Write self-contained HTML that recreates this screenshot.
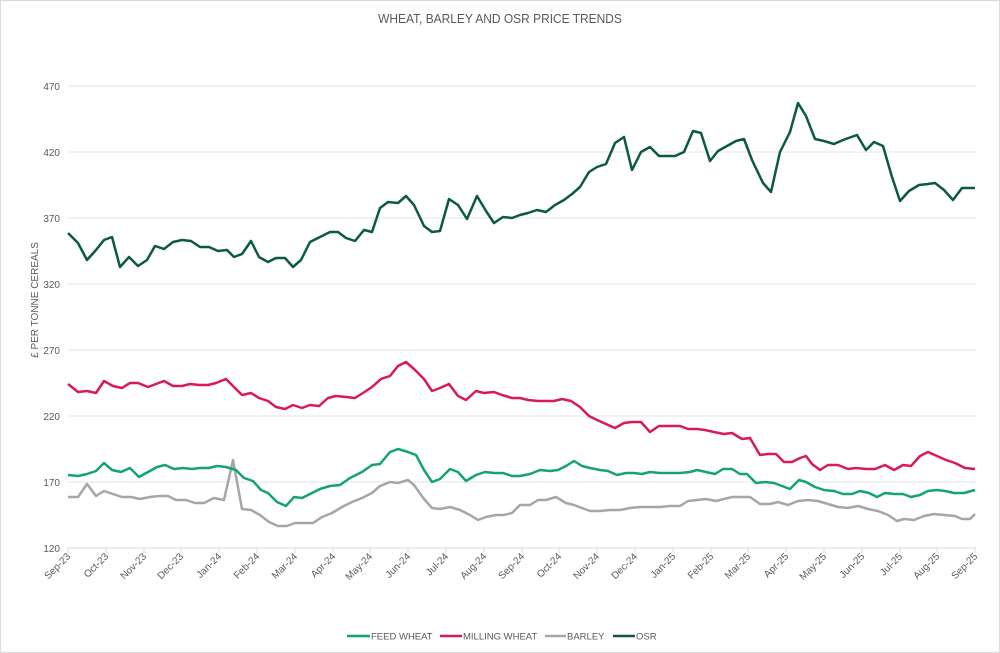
<!DOCTYPE html>
<html><head><meta charset="utf-8"><style>
html,body{margin:0;padding:0;background:#fff}
svg{display:block;font-family:"Liberation Sans",sans-serif}
</style></head><body>
<svg width="1000" height="653" viewBox="0 0 1000 653" xmlns="http://www.w3.org/2000/svg">
<rect x="0.5" y="0.5" width="999" height="652" fill="#fff" stroke="#d9d9d9"/>
<text x="500" y="23" text-anchor="middle" font-size="13" fill="#595959" transform="translate(500 0) scale(0.92 1) translate(-500 0)">WHEAT, BARLEY AND OSR PRICE TRENDS</text>
<g stroke="#e6e6e6" stroke-width="1">
<line x1="68" y1="86" x2="976" y2="86"/><line x1="68" y1="152" x2="976" y2="152"/>
<line x1="68" y1="218" x2="976" y2="218"/><line x1="68" y1="284" x2="976" y2="284"/>
<line x1="68" y1="350" x2="976" y2="350"/><line x1="68" y1="416" x2="976" y2="416"/>
<line x1="68" y1="482" x2="976" y2="482"/>
</g>
<line x1="68" y1="548" x2="976" y2="548" stroke="#d9d9d9"/>
<g font-size="10" fill="#595959" text-anchor="end">
<text x="60" y="90">470</text><text x="60" y="156">420</text><text x="60" y="222">370</text>
<text x="60" y="288">320</text><text x="60" y="354">270</text><text x="60" y="420">220</text>
<text x="60" y="486">170</text><text x="60" y="552">120</text>
</g>
<text transform="translate(38 300) rotate(-90)" text-anchor="middle" font-size="10" fill="#595959">£ PER TONNE CEREALS</text>
<g stroke="#d9d9d9">
<line x1="68" y1="548" x2="68" y2="553"/><line x1="106" y1="548" x2="106" y2="553"/><line x1="144" y1="548" x2="144" y2="553"/><line x1="181" y1="548" x2="181" y2="553"/><line x1="219" y1="548" x2="219" y2="553"/><line x1="257" y1="548" x2="257" y2="553"/><line x1="295" y1="548" x2="295" y2="553"/><line x1="333" y1="548" x2="333" y2="553"/><line x1="370" y1="548" x2="370" y2="553"/><line x1="408" y1="548" x2="408" y2="553"/><line x1="446" y1="548" x2="446" y2="553"/><line x1="484" y1="548" x2="484" y2="553"/><line x1="522" y1="548" x2="522" y2="553"/><line x1="559" y1="548" x2="559" y2="553"/><line x1="597" y1="548" x2="597" y2="553"/><line x1="635" y1="548" x2="635" y2="553"/><line x1="673" y1="548" x2="673" y2="553"/><line x1="711" y1="548" x2="711" y2="553"/><line x1="748" y1="548" x2="748" y2="553"/><line x1="786" y1="548" x2="786" y2="553"/><line x1="824" y1="548" x2="824" y2="553"/><line x1="862" y1="548" x2="862" y2="553"/><line x1="900" y1="548" x2="900" y2="553"/><line x1="937" y1="548" x2="937" y2="553"/><line x1="975" y1="548" x2="975" y2="553"/>
</g>
<g font-size="10" fill="#595959" text-anchor="end">
<text transform="translate(71 557) rotate(-45)">Sep-23</text><text transform="translate(109 557) rotate(-45)">Oct-23</text><text transform="translate(147 557) rotate(-45)">Nov-23</text><text transform="translate(184 557) rotate(-45)">Dec-23</text><text transform="translate(222 557) rotate(-45)">Jan-24</text><text transform="translate(260 557) rotate(-45)">Feb-24</text><text transform="translate(298 557) rotate(-45)">Mar-24</text><text transform="translate(336 557) rotate(-45)">Apr-24</text><text transform="translate(373 557) rotate(-45)">May-24</text><text transform="translate(411 557) rotate(-45)">Jun-24</text><text transform="translate(449 557) rotate(-45)">Jul-24</text><text transform="translate(487 557) rotate(-45)">Aug-24</text><text transform="translate(525 557) rotate(-45)">Sep-24</text><text transform="translate(562 557) rotate(-45)">Oct-24</text><text transform="translate(600 557) rotate(-45)">Nov-24</text><text transform="translate(638 557) rotate(-45)">Dec-24</text><text transform="translate(676 557) rotate(-45)">Jan-25</text><text transform="translate(714 557) rotate(-45)">Feb-25</text><text transform="translate(751 557) rotate(-45)">Mar-25</text><text transform="translate(789 557) rotate(-45)">Apr-25</text><text transform="translate(827 557) rotate(-45)">May-25</text><text transform="translate(865 557) rotate(-45)">Jun-25</text><text transform="translate(903 557) rotate(-45)">Jul-25</text><text transform="translate(940 557) rotate(-45)">Aug-25</text><text transform="translate(978 557) rotate(-45)">Sep-25</text>
</g>
<g fill="none" stroke-width="2.5" stroke-linejoin="round">
<polyline stroke="#a6a6a6" points="68,497 78,497 87,484 96,496 104,491 113,494 122,497 131,497 140,499 150,497 159,496 168,496 176,500 186,500 195,503 204,503 214,498 224,500 233,460 242,509 251,510 260,515 269,522 278,526 287,526 295,523 304,523 313,523 322,517 332,513 342,507 352,502 362,498 372,493 380,486 390,482 398,483 408,480 414,485 424,499 432,508 440,509 450,507 460,510 470,515 478,520 486,517 496,515 504,515 512,513 520,505 530,505 538,500 546,500 556,497 566,503 574,505 582,508 590,511 600,511 610,510 620,510 630,508 640,507 650,507 660,507 670,506 680,506 688,501 697,500 706,499 716,501 724,499 732,497 742,497 750,497 760,504 770,504 778,502 788,505 798,501 808,500 818,501 828,504 838,507 848,508 858,506 868,509 878,511 888,515 897,521 904,519 914,520 924,516 934,514 944,515 955,516 962,519 970,519 975,514"/>
<polyline stroke="#13a27a" points="68,475 78,476 87,474 96,471 104,463 112,470 121,472 130,468 139,477 148,472 157,467 165,465 174,469 183,468 192,469 200,468 209,468 217,466 226,467 236,470 244,478 253,481 261,490 268,493 277,502 286,506 294,497 302,498 310,494 320,489 330,486 340,485 350,478 362,472 372,465 380,464 390,452 398,449 408,452 416,455 424,470 432,482 440,479 450,469 458,472 466,481 476,475 485,472 494,473 503,473 512,476 520,476 530,474 540,470 550,471 558,470 566,466 574,461 582,466 590,468 600,470 608,471 617,475 626,473 634,473 642,474 650,472 660,473 670,473 680,473 690,472 697,470 706,472 715,474 723,469 732,469 740,474 747,474 756,483 765,482 774,483 782,486 790,489 799,480 806,482 815,487 824,490 834,491 843,494 852,494 860,491 869,493 877,497 885,493 894,494 903,494 911,497 920,495 928,491 937,490 945,491 954,493 964,493 975,490"/>
<polyline stroke="#d8195a" points="68,384 78,392 87,391 96,393 104,381 113,386 122,388 130,383 138,383 148,387 156,384 164,381 173,386 182,386 190,384 199,385 208,385 216,383 226,379 234,387 242,395 251,393 259,398 268,401 276,407 285,409 293,405 302,408 310,405 319,406 328,398 336,396 346,397 355,398 363,393 372,387 381,379 390,376 398,366 406,362 414,369 424,379 432,391 440,388 449,384 458,396 466,400 476,391 484,393 494,392 502,395 512,398 520,398 528,400 538,401 546,401 554,401 562,399 571,401 580,407 589,416 597,420 606,424 615,428 624,423 632,422 641,422 650,432 659,426 670,426 680,426 688,429 697,429 705,430 714,432 724,434 732,433 742,439 750,438 760,455 768,454 776,454 784,462 792,462 800,458 806,456 812,464 820,470 828,465 838,465 848,469 856,468 866,469 875,469 885,465 894,470 903,465 911,466 920,456 928,452 937,456 946,460 955,463 965,468 975,469"/>
<polyline stroke="#0b5a3f" points="68,233 78,243 87,260 96,250 104,240 112,237 120,267 129,257 138,266 147,260 155,246 164,249 173,242 182,240 191,241 200,247 209,247 218,251 227,250 234,257 242,254 251,241 259,257 268,262 276,258 285,258 293,267 301,260 310,242 320,237 330,232 338,232 346,238 355,241 364,230 372,232 380,208 388,202 398,203 406,196 414,205 424,226 432,232 440,231 449,199 458,205 467,219 477,196 486,211 494,223 503,217 512,218 520,215 528,213 537,210 546,212 555,205 564,200 572,194 580,187 589,172 597,167 606,164 615,143 624,137 632,170 641,152 650,147 659,156 666,156 675,156 684,152 693,131 701,133 710,161 718,151 727,146 736,141 744,139 752,160 763,183 771,192 780,152 790,132 798,103 806,116 815,139 824,141 834,144 843,140 857,135 866,150 874,142 883,146 892,177 900,201 909,191 919,185 928,184 935,183 944,190 953,200 962,188 975,188"/>
</g>
<g font-size="9.5" fill="#595959">
<line x1="347" y1="636" x2="370" y2="636" stroke="#13a27a" stroke-width="2.5"/><text x="371" y="639.5">FEED WHEAT</text>
<line x1="440" y1="636" x2="462" y2="636" stroke="#d8195a" stroke-width="2.5"/><text x="463" y="639.5">MILLING WHEAT</text>
<line x1="545" y1="636" x2="566" y2="636" stroke="#a6a6a6" stroke-width="2.5"/><text x="567" y="639.5">BARLEY</text>
<line x1="613" y1="636" x2="635" y2="636" stroke="#0b5a3f" stroke-width="2.5"/><text x="636" y="639.5">OSR</text>
</g>
</svg>
</body></html>
